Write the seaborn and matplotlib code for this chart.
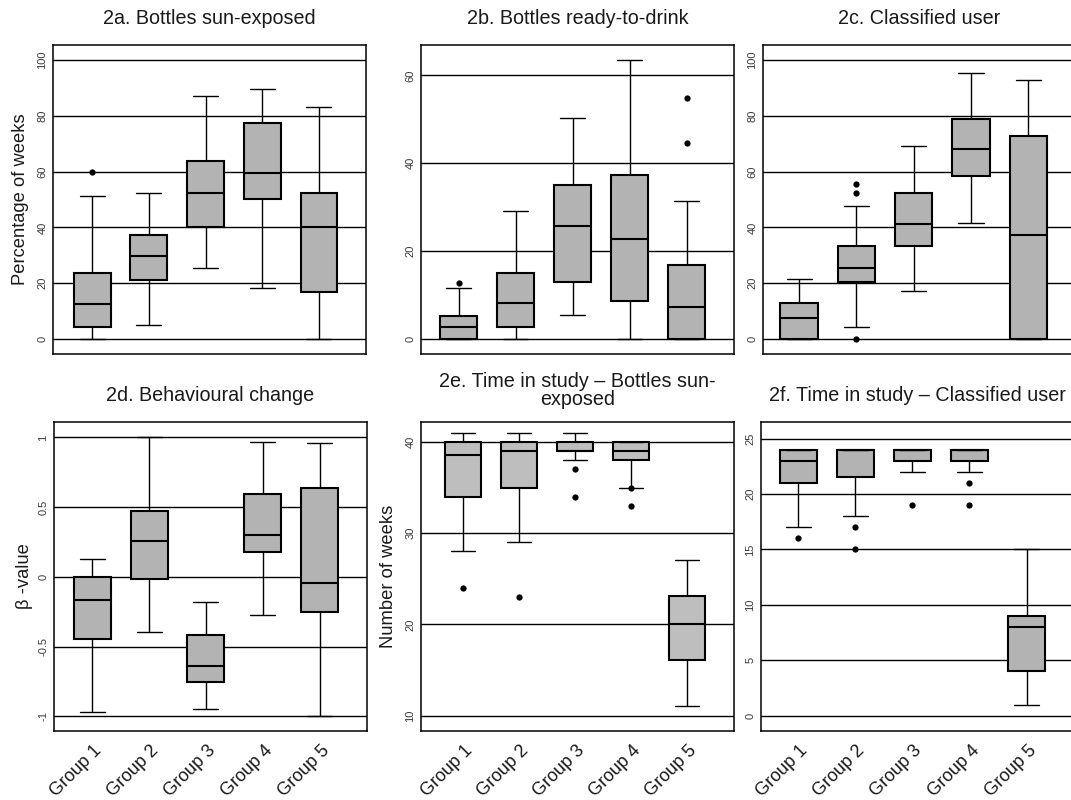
import numpy as np
import pandas as pd
import matplotlib
matplotlib.use("Agg")
import matplotlib.pyplot as plt
import matplotlib.transforms as mtransforms
import seaborn as sns

sns.set_style("white")
plt.rcParams["font.family"] = ["Liberation Sans", "DejaVu Sans"]

groups = ["Group 1", "Group 2", "Group 3", "Group 4", "Group 5"]

# Box summaries per group: lower whisker, Q1, median, Q3, upper whisker
sun_exposed = [
    [0.0, 4.3, 12.5, 23.6, 51.3],
    [4.9, 21.2, 29.7, 37.2, 52.5],
    [25.4, 40.0, 52.5, 63.7, 87.0],
    [18.4, 50.2, 59.5, 77.3, 89.6],
    [0.0, 16.7, 40.0, 52.5, 83.2],
]
sun_exposed_out = [[59.8], [], [], [], []]

ready_to_drink = [
    [0.0, 0.0, 2.7, 5.2, 11.7],
    [0.0, 2.7, 8.3, 15.1, 29.2],
    [5.5, 13.0, 25.8, 35.0, 50.2],
    [0.0, 8.6, 22.7, 37.4, 63.5],
    [0.0, 0.0, 7.2, 16.8, 31.5],
]
ready_to_drink_out = [[12.7], [], [], [], [44.6, 54.8]]

classified_user = [
    [0.0, 0.0, 7.5, 12.9, 21.6],
    [4.3, 20.3, 25.4, 33.5, 47.5],
    [17.3, 33.5, 41.1, 52.5, 69.2],
    [41.6, 58.5, 68.0, 78.9, 95.2],
    [0.0, 0.0, 37.2, 72.6, 92.8],
]
classified_user_out = [[], [0.0, 52.5, 55.5], [], [], []]

behaviour_beta = [
    [-0.965, -0.447, -0.165, 0.0, 0.127],
    [-0.392, -0.012, 0.258, 0.473, 1.0],
    [-0.944, -0.750, -0.640, -0.413, -0.177],
    [-0.270, 0.182, 0.301, 0.593, 0.970],
    [-1.0, -0.251, -0.045, 0.636, 0.961],
]
behaviour_beta_out = [[], [], [], [], []]

weeks_sun_exposed = [
    [28.0, 34.0, 38.6, 40.0, 41.0],
    [29.0, 35.0, 39.0, 40.0, 41.0],
    [38.0, 39.0, 39.0, 40.0, 41.0],
    [35.0, 38.0, 39.0, 40.0, 40.0],
    [11.0, 16.1, 20.0, 23.1, 27.1],
]
weeks_sun_exposed_out = [[24.0], [23.0], [34.0, 37.0], [33.0, 35.0], []]

weeks_classified = [
    [17.0, 21.0, 23.0, 24.0, 24.0],
    [18.0, 21.5, 24.0, 24.0, 24.0],
    [22.0, 23.0, 24.0, 24.0, 24.0],
    [22.0, 23.0, 24.0, 24.0, 24.0],
    [1.0, 4.0, 8.0, 9.0, 15.0],
]
weeks_classified_out = [[16.0], [15.0, 17.0], [19.0], [19.0, 21.0], []]

titles = [
    "2a. Bottles sun-exposed",
    "2b. Bottles ready-to-drink",
    "2c. Classified user",
    "2d. Behavioural change",
    "2e. Time in study \u2013 Bottles sun-\nexposed",
    "2f. Time in study \u2013 Classified user",
]
ylabels = ["Percentage of weeks", "", "", "\u03b2 -value", "Number of weeks", ""]
yticks = [
    [0, 20, 40, 60, 80, 100],
    [0, 20, 40, 60],
    [0, 20, 40, 60, 80, 100],
    [-1, -0.5, 0, 0.5, 1],
    [10, 20, 30, 40],
    [0, 5, 10, 15, 20, 25],
]
ytick_labels = [
    ["0", "20", "40", "60", "80", "100"],
    ["0", "20", "40", "60"],
    ["0", "20", "40", "60", "80", "100"],
    ["-1", "-0.5", "0", "0.5", "1"],
    ["10", "20", "30", "40"],
    ["0", "5", "10", "15", "20", "25"],
]

panels = [
    (sun_exposed, sun_exposed_out),
    (ready_to_drink, ready_to_drink_out),
    (classified_user, classified_user_out),
    (behaviour_beta, behaviour_beta_out),
    (weeks_sun_exposed, weeks_sun_exposed_out),
    (weeks_classified, weeks_classified_out),
]

# layout (pixels)
FW, FH = 1071, 800
AX_W, AX_H = 313, 309
ax_left = [53, 421, 763, 54, 421, 761]
ax_top = [45, 45, 45, 422, 422, 422]
ylims = [(-5.4, 105.4), (-3.4, 66.9), (-5.4, 105.4),
         (-1.104, 1.111), (8.3, 42.2), (-1.38, 26.5)]
xlims = [(-0.69, 4.83), (-0.66, 4.83), (-0.63, 4.83),
         (-0.67, 4.83), (-0.75, 4.84), (-0.65, 4.83)]
box_colors = ["#b3b3b3", "#b3b3b3", "#b3b3b3", "#b3b3b3", "#bebebe", "#b3b3b3"]
title_pads = [15, 15, 15, 15, 12.5, 15]
title_spacing = [1.0, 1.0, 1.0, 1.0, 0.88, 1.0]
ylabel_x = [-0.105, 0, 0, -0.093, -0.105, 0]

fig = plt.figure(figsize=(FW / 100, FH / 100), dpi=100)
xlabel_shift = mtransforms.ScaledTranslation(7 / 100, -3 / 100, fig.dpi_scale_trans)

for i, (stats, outs) in enumerate(panels):
    rect = [ax_left[i] / FW, 1 - (ax_top[i] + AX_H) / FH, AX_W / FW, AX_H / FH]
    ax = fig.add_axes(rect)

    box_df = pd.DataFrame(
        [(g, v) for g, s in zip(groups, stats) for v in s],
        columns=["group", "value"],
    )
    kw = dict(data=box_df, x="group", y="value", order=groups, whis=(0, 100),
              showfliers=False, width=0.65, color=box_colors[i], saturation=1,
              linecolor="black", linewidth=1.0,
              boxprops=dict(linewidth=1.5), medianprops=dict(linewidth=1.5),
              ax=ax)
    try:
        sns.boxplot(capwidths=0.44, **kw)
    except TypeError:
        sns.boxplot(**kw)

    out_df = pd.DataFrame(
        [(g, v) for g, o in zip(groups, outs) for v in o],
        columns=["group", "value"],
    )
    if len(out_df):
        sns.stripplot(data=out_df, x="group", y="value", order=groups,
                      jitter=False, color="black", size=4.5, linewidth=0, ax=ax)

    ax.set_axisbelow(True)
    ax.yaxis.grid(True, color="black", linewidth=1.0)
    ax.xaxis.grid(False)
    ax.set_ylim(*ylims[i])
    ax.set_xlim(*xlims[i])
    ax.set_yticks(yticks[i])
    ax.set_yticklabels(ytick_labels[i], rotation=90, va="center",
                       fontsize=8, color="#3a3a3a")
    ax.tick_params(axis="both", length=0)
    ax.tick_params(axis="y", pad=4)

    ax.set_xticks(range(len(groups)))
    if i >= 3:
        ax.set_xticklabels(groups, rotation=45, ha="right", va="center",
                           rotation_mode="anchor", fontsize=13, color="#1a1a1a")
        ax.tick_params(axis="x", pad=10)
        for lab in ax.get_xticklabels():
            lab.set_transform(lab.get_transform() + xlabel_shift)
    else:
        ax.set_xticklabels([])
    ax.set_xlabel("")

    if ylabels[i]:
        ax.set_ylabel(ylabels[i], fontsize=13.2, color="#1a1a1a", va="center")
        ax.yaxis.set_label_coords(ylabel_x[i], 0.5)
    else:
        ax.set_ylabel("")

    ax.set_title(titles[i], fontsize=14.2, color="#1a1a1a", pad=title_pads[i],
                 linespacing=title_spacing[i])

    for sp in ax.spines.values():
        sp.set_visible(True)
        sp.set_color("black")
        sp.set_linewidth(1.1)

fig.savefig("out.png", dpi=100)
